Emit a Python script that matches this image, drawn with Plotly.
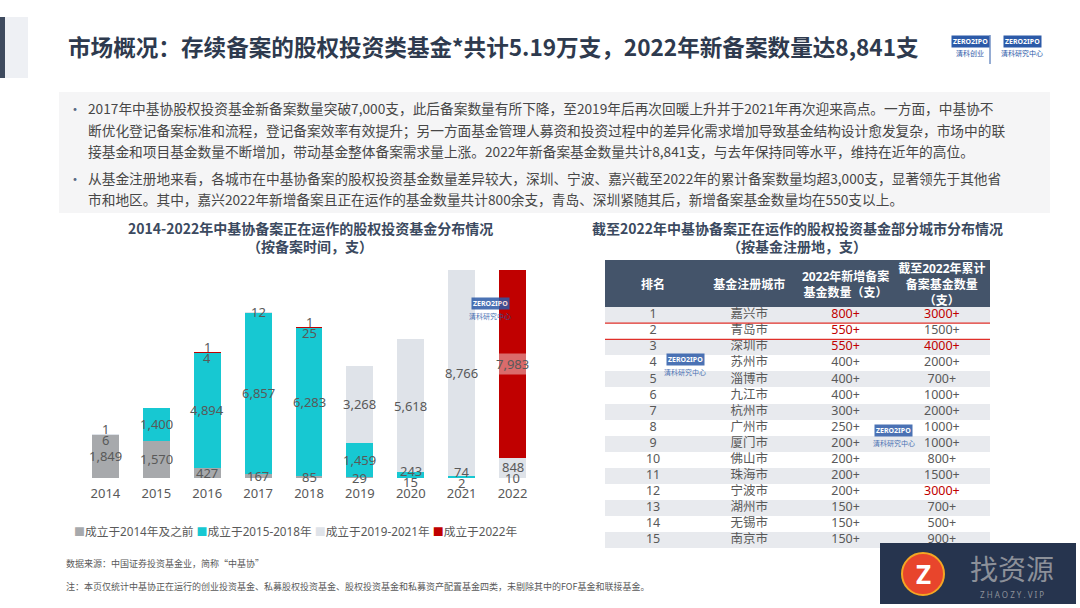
import plotly.graph_objects as go

W, H = 1080, 608
def px(x): return x / W
def py(y): return 1 - y / H

# ---------------- data ----------------
years = ['2014', '2015', '2016', '2017', '2018', '2019', '2020', '2021', '2022']
series_names = ['成立于2014年及之前', '成立于2015-2018年', '成立于2019-2021年', '成立于2022年']
s_pre2014 = [1849, 1570, 427, 167, 85, 29, 15, 2, 10]
s_2015_2018 = [6, 1400, 4894, 6857, 6283, 1459, 243, 74, None]
s_2019_2021 = [1, None, 4, 12, 25, 3268, 5618, 8766, 848]
s_2022 = [None, None, 1, None, 1, None, None, None, 7983]

rank = ['1', '2', '3', '4', '5', '6', '7', '8', '9', '10', '11', '12', '13', '14', '15']
cities = ['嘉兴市', '青岛市', '深圳市', '苏州市', '淄博市', '九江市', '杭州市', '广州市',
          '厦门市', '佛山市', '珠海市', '宁波市', '湖州市', '无锡市', '南京市']
new_2022 = [800, 550, 550, 400, 400, 400, 300, 250, 200, 200, 200, 200, 150, 150, 150]
cum_2022 = [3000, 1500, 4000, 2000, 700, 1000, 2000, 1000, 1000, 800, 1500, 3000, 700, 500, 900]
table_header = ['排名', '基金注册城市', '2022年新增备案<br>基金数量（支）', '截至2022年累计<br>备案基金数量<br>（支）']
highlight_rank = '2'

title = '市场概况：存续备案的股权投资类基金*共计5.19万支，2022年新备案数量达8,841支'
bullets = [
    ['2017年中基协股权投资基金新备案数量突破7,000支，此后备案数量有所下降，至2019年后再次回暖上升并于2021年再次迎来高点。一方面，中基协不',
     '断优化登记备案标准和流程，登记备案效率有效提升；另一方面基金管理人募资和投资过程中的差异化需求增加导致基金结构设计愈发复杂，市场中的联',
     '接基金和项目基金数量不断增加，带动基金整体备案需求量上涨。2022年新备案基金数量共计8,841支，与去年保持同等水平，维持在近年的高位。'],
    ['从基金注册地来看，各城市在中基协备案的股权投资基金数量差异较大，深圳、宁波、嘉兴截至2022年的累计备案数量均超3,000支，显著领先于其他省',
     '市和地区。其中，嘉兴2022年新增备案且正在运作的基金数量共计800余支，青岛、深圳紧随其后，新增备案基金数量均在550支以上。'],
]
left_title = ['2014-2022年中基协备案正在运作的股权投资基金分布情况', '（按备案时间，支）']
right_title = ['截至2022年中基协备案正在运作的股权投资基金部分城市分布情况', '（按基金注册地，支）']
source_note = '数据来源：中国证券投资基金业，简称“中基协”'
foot_note = '注：本页仅统计中基协正在运行的创业投资基金、私募股权投资基金、股权投资基金和私募资产配置基金四类，未剔除其中的FOF基金和联接基金。'

# ---------------- styles ----------------
FONT = 'Noto Sans, Noto Sans CJK SC, sans-serif'
CJK = 'Noto Sans CJK SC, sans-serif'
TXT = '#595959'
BODY = '#474747'
NAVY = '#3B4A60'
RED = '#C00000'
colors = ['#A7A9AC', '#17C8D2', '#DFE3E9', '#C00000']
series = [s_pre2014, s_2015_2018, s_2019_2021, s_2022]

# bar plot geometry (pixels)
PLOT_L, PLOT_R, PLOT_B, PLOT_T = 80, 538, 478, 254
YMAX = 9500
px_per_unit = (PLOT_B - PLOT_T) / YMAX

fig = go.Figure()
for name, vals, col in zip(series_names, series, colors):
    fig.add_trace(go.Bar(
        x=years, y=vals, name=name,
        marker=dict(color=col, line=dict(width=0)),
        hoverinfo='skip', cliponaxis=False, showlegend=False,
    ))

# data labels: centred on each segment, nudged apart when they collide
annotations = []
MIN_GAP = 11
for i, yr in enumerate(years):
    labels = []
    base = 0
    for k, vals in enumerate(series):
        v = vals[i]
        if v is None:
            continue
        labels.append({'k': k, 'y': base + v / 2, 'v': v, 'pix': (base + v / 2) * px_per_unit})
        base += v
    pos = [l['pix'] for l in labels]
    for _ in range(50):
        moved = False
        for j in range(len(pos) - 1):
            if pos[j + 1] - pos[j] < MIN_GAP - 1e-6:
                mid = (pos[j] + pos[j + 1]) / 2
                pos[j] = mid - MIN_GAP / 2
                pos[j + 1] = mid + MIN_GAP / 2
                moved = True
        if not moved:
            break
    for l, p in zip(labels, pos):
        big_red = l['k'] == 3 and l['v'] >= 1000
        annotations.append(dict(
            x=i, y=l['y'], xref='x', yref='y', text=f"{l['v']:,}",
            yshift=p - l['pix'], showarrow=False, xanchor='center', yanchor='middle',
            font=dict(family=FONT, size=13, color=TXT),
            bgcolor='rgba(255,255,255,0.42)' if big_red else None,
            borderpad=1,
        ))

# ---------------- table (drawn on its own axes) ----------------
TAB_L, TAB_R, TAB_T, TAB_B = 605, 990, 260, 548
HDR_H, ROW_H = 47, 16
n_rows = len(rank)
hdr_units = HDR_H / ROW_H
row_y = [r + 0.5 for r in range(n_rows)]
row_fill = ['#E8EAEE' if r % 2 == 0 else '#FFFFFF' for r in range(n_rows)]

fig.add_trace(go.Bar(
    orientation='h', xaxis='x2', yaxis='y2',
    y=[-hdr_units / 2] + row_y, x=[4] * (n_rows + 1),
    width=[hdr_units] + [1] * n_rows,
    marker=dict(color=['#44546A'] + row_fill, line=dict(width=0)),
    hoverinfo='skip', showlegend=False,
))

hdr_txt = ['<br>'.join(f'<b>{p}</b>' for p in h.split('<br>')) for h in table_header]
fig.add_trace(go.Scatter(
    xaxis='x2', yaxis='y2', mode='text',
    x=[c + 0.5 for c in range(4)], y=[-hdr_units / 2 + 0.15] * 4, text=hdr_txt,
    textposition='middle center', textfont=dict(family=FONT, size=12, color='white'),
    hoverinfo='skip', showlegend=False, cliponaxis=False,
))

new_txt = [f'{v}+' for v in new_2022]
cum_txt = [f'{v}+' for v in cum_2022]
new_col = [RED if v >= 550 else TXT for v in new_2022]
cum_col = [RED if v >= 3000 else TXT for v in cum_2022]
for c, (vals, cols) in enumerate([(rank, [TXT] * n_rows), (cities, [TXT] * n_rows),
                                  (new_txt, new_col), (cum_txt, cum_col)]):
    fig.add_trace(go.Scatter(
        xaxis='x2', yaxis='y2', mode='text',
        x=[c + 0.5] * n_rows, y=row_y, text=vals,
        textposition='middle center', textfont=dict(family=FONT, size=12.5, color=cols),
        hoverinfo='skip', showlegend=False, cliponaxis=False,
    ))

# ---------------- layout ----------------
fig.update_layout(
    width=W, height=H, margin=dict(l=0, r=0, t=0, b=0, autoexpand=False),
    paper_bgcolor='white', plot_bgcolor='rgba(0,0,0,0)',
    barmode='stack', bargap=0.47,
    font=dict(family=FONT, color=TXT),
    showlegend=False,
    xaxis=dict(domain=[px(PLOT_L), px(PLOT_R)], type='category', range=[-0.5, len(years) - 0.5],
               showgrid=False, showline=False, zeroline=False, ticks='', automargin=False,
               ticklabelstandoff=6,
               tickfont=dict(family=FONT, size=13, color=TXT), fixedrange=True),
    yaxis=dict(domain=[py(PLOT_B), py(PLOT_T)], range=[0, YMAX], visible=False, automargin=False,
               fixedrange=True),
    xaxis2=dict(domain=[px(TAB_L), px(TAB_R)], range=[0, 4], visible=False, anchor='y2',
                automargin=False, fixedrange=True),
    yaxis2=dict(domain=[py(TAB_B), py(TAB_T)], range=[n_rows, -hdr_units], visible=False,
                anchor='x2', automargin=False, fixedrange=True),
)

hl = rank.index(highlight_rank)
shapes = [
    dict(type='rect', xref='paper', yref='paper', x0=0, x1=px(5), y0=py(78), y1=py(17),
         fillcolor='#3E4A5E', line=dict(width=0), layer='below'),
    dict(type='rect', xref='paper', yref='paper', x0=px(5), x1=px(28), y0=py(78), y1=py(17),
         fillcolor='#EEF0F4', line=dict(width=0), layer='below'),
    dict(type='rect', xref='paper', yref='paper', x0=px(59), x1=px(1050), y0=py(213), y1=py(92),
         fillcolor='#F5F5F6', line=dict(width=0), layer='below'),
    # highlight row of the table
    dict(type='rect', xref='x2', yref='y2', x0=-0.01, x1=4.01, y0=hl, y1=hl + 1,
         line=dict(color='#E0302A', width=1.2), fillcolor='rgba(0,0,0,0)', layer='above'),
    # logo separator
    dict(type='line', xref='paper', yref='paper', x0=px(990), x1=px(990), y0=py(64), y1=py(35),
         line=dict(color='#2C5AA8', width=1)),
    # watermark box
    dict(type='rect', xref='paper', yref='paper', x0=px(880), x1=px(1076), y0=py(604), y1=py(543),
         fillcolor='#26344E', line=dict(width=0), layer='above'),
    dict(type='circle', xref='paper', yref='paper', x0=px(902), x1=px(944), y0=py(595), y1=py(553),
         fillcolor='#E8452C', line=dict(color='#F4A623', width=2), layer='above'),
]

def note(x, y, text, size, color=TXT, bold=False, anchor='left', family=CJK, **kw):
    t = f'<b>{text}</b>' if bold else text
    d = dict(x=px(x), y=py(y), xref='paper', yref='paper', text=t, showarrow=False,
             xanchor=anchor, yanchor='middle', font=dict(family=family, size=size, color=color))
    d.update(kw)
    annotations.append(d)

note(66, 47, title, 22.6, color='#2E3A4E', bold=True)

line_y = [[108, 130, 151], [178, 199]]
for paras, ys in zip(bullets, line_y):
    note(75, ys[0], '•', 14, color='#5A6B85', anchor='center')
    for txt, yy in zip(paras, ys):
        note(86, yy, txt, 13.7, color=BODY)

note(310, 228, left_title[0], 14, color=NAVY, bold=True, anchor='center')
note(310, 246, left_title[1], 14, color=NAVY, bold=True, anchor='center')
note(797, 228, right_title[0], 14, color=NAVY, bold=True, anchor='center')
note(797, 246, right_title[1], 14, color=NAVY, bold=True, anchor='center')

# legend (compact, one line)
legend_html = ' '.join(f'<span style="color:{c};font-size:11px">■</span>{n}'
                       for n, c in zip(series_names, colors))
note(72, 531, legend_html, 11.7, family=FONT)

note(64, 563, source_note, 9)
note(64, 586, foot_note, 9)

# logos (top right)
note(970, 41, '<b>ZERO2IPO</b>', 7, color='white', anchor='center', family=FONT, bgcolor='#2C5AA8', borderpad=1)
note(970, 53, '清科创业', 7, color='#2C5AA8', anchor='center')
note(1022, 41, '<b>ZERO2IPO</b>', 7, color='white', anchor='center', family=FONT, bgcolor='#2C5AA8', borderpad=1)
note(1022, 53, '清科研究中心', 7, color='#2C5AA8', anchor='center')

# faint watermarks in chart and table
for (wx, wy) in [(490, 303), (685, 359), (894, 430)]:
    note(wx, wy, '<b>ZERO2IPO</b>', 7, color='white', anchor='center', family=FONT,
         bgcolor='#2C5AA8', borderpad=1, opacity=0.85)
    note(wx, wy + 13, '清科研究中心', 7, color='#2C5AA8', anchor='center', opacity=0.85)

# watermark text
note(923, 574, '<b>Z</b>', 26, color='white', anchor='center', family=FONT)
note(1012, 568, '找资源', 28, color='#8C9099', anchor='center')
note(1012, 594, 'Z H A O Z Y . V I P', 8, color='#8C9099', anchor='center', family=FONT)

fig.update_layout(annotations=annotations, shapes=shapes)
fig.write_html('out.html', config={'displayModeBar': False},
               post_script="document.body.style.margin='0';")
